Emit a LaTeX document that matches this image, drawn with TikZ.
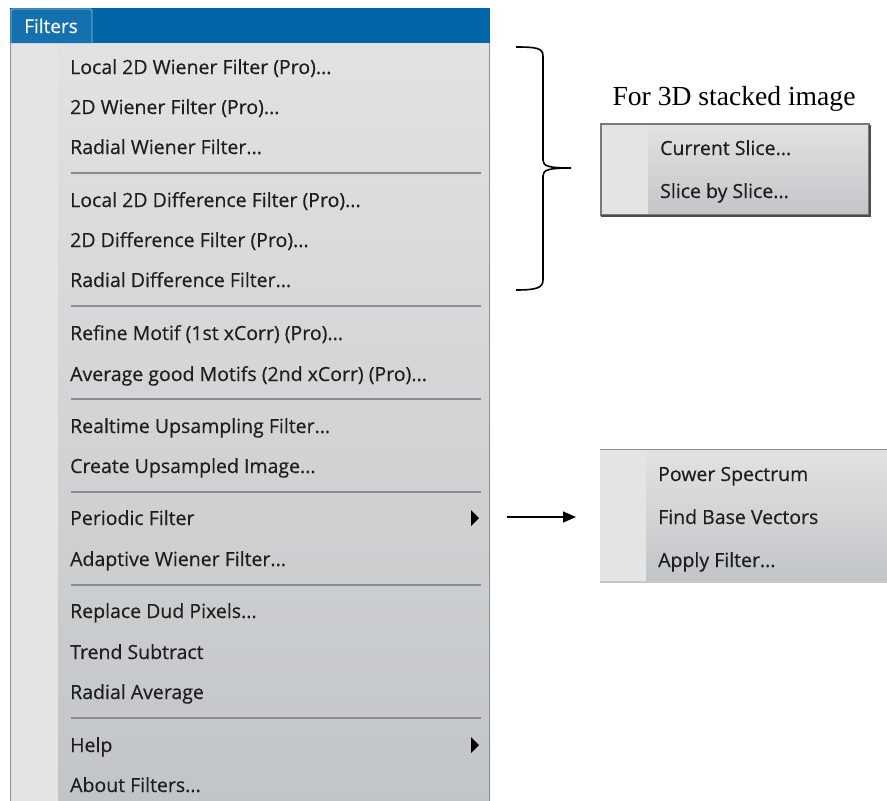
\documentclass[tikz,border=0pt]{standalone}
\usepackage{fontspec}
\setmainfont{Liberation Serif}
\newfontfamily\uifont{Open Sans}[FakeBold=0.4]
\usetikzlibrary{arrows.meta}
\definecolor{barblue}{HTML}{0066A8}
\definecolor{tabblue}{HTML}{1570B0}
\definecolor{menutop}{HTML}{E2E2E2}
\definecolor{menubot}{HTML}{C2C5C8}
\definecolor{iconcol}{HTML}{E4E4E4}
\definecolor{sepcol}{HTML}{8A8C8F}
\definecolor{bordcol}{HTML}{8E9092}
\definecolor{txtcol}{HTML}{1E1E1E}
\tikzset{
  item/.style={anchor=base west, inner sep=0pt, font=\uifont\fontsize{19.5}{22}\selectfont, text=txtcol},
  sep/.style={draw=sepcol, line width=1.3pt},
  subarrow/.style={fill=black, draw=none},
}
\begin{document}
\begin{tikzpicture}[x=1pt,y=-1pt]
\useasboundingbox (0,0) rectangle (887,801);
% main menu
\fill[top color=menutop, bottom color=menubot] (10,42) rectangle (490,801);
\fill[iconcol] (11,42) rectangle (58,801);
\draw[bordcol, line width=1.2pt] (10.5,42) -- (10.5,801) (489.5,42) -- (489.5,801);
\fill[barblue] (10,8) rectangle (490,43);
\draw[draw=white!60!barblue, fill=tabblue, line width=0.8pt, rounded corners=1.5pt] (11,43) -- (11,9) -- (92,9) -- (92,43);
\node[anchor=base west, inner sep=0pt, font=\uifont\fontsize{19}{22}\selectfont, text=white] (hdr) at (24,33) {Filters};
% items
\node[item] (i1) at (70,74) {Local 2D Wiener Filter (Pro)...};
\node[item] (i2) at (70,114) {2D Wiener Filter (Pro)...};
\node[item] (i3) at (70,154) {Radial Wiener Filter...};
\draw[sep] (71,173) -- (481,173);
\node[item] (i4) at (70,207) {Local 2D Difference Filter (Pro)...};
\node[item] (i5) at (70,247) {2D Difference Filter (Pro)...};
\node[item] (i6) at (70,287) {Radial Difference Filter...};
\draw[sep] (71,306) -- (481,306);
\node[item] (i7) at (70,340) {Refine Motif (1st xCorr) (Pro)...};
\node[item] (i8) at (70,381) {Average good Motifs (2nd xCorr) (Pro)...};
\draw[sep] (71,399) -- (481,399);
\node[item] (i9) at (70,433) {Realtime Upsampling Filter...};
\node[item] (i10) at (70,473) {Create Upsampled Image...};
\draw[sep] (71,492) -- (481,492);
\node[item] (i11) at (70,525) {Periodic Filter};
\node[item] (i12) at (70,566) {Adaptive Wiener Filter...};
\draw[sep] (71,585) -- (481,585);
\node[item] (i13) at (70,618) {Replace Dud Pixels...};
\node[item] (i14) at (70,659) {Trend Subtract};
\node[item] (i15) at (70,699) {Radial Average};
\draw[sep] (71,718) -- (481,718);
\node[item] (i16) at (70,752) {Help};
\node[item] (i17) at (70,792) {About Filters...};
\fill[subarrow] (471,510) -- (479,518) -- (471,526) -- cycle;
\coordinate (pfarrow) at (507,517);
\fill[subarrow] (471,737) -- (479,745) -- (471,753) -- cycle;
% brace
\draw[line width=1.6pt] (516,47) .. controls (536,47) and (543,48) .. (543,56) -- (543,160)
  .. controls (543,166) and (548,168) .. (571,168)
  .. controls (548,168) and (543,170) .. (543,176) -- (543,280)
  .. controls (543,288) and (536,290) .. (516,290);
\coordinate (bracetip) at (571,168);
% label
\node[anchor=base, inner sep=0pt, font=\fontsize{27.6}{30}\selectfont] (lbl) at (734,105) {For 3D stacked image};
% submenu 1
\fill[top color=menutop, bottom color=menubot] (601,124) rectangle (869,215);
\fill[iconcol] (601,124) rectangle (648,215);
\draw[draw=bordcol!85!black, line width=1.5pt] (601,124) rectangle (869,215);
\draw[gray!60!black, line width=1.5pt] (601,216) -- (870,216) -- (870,125);
\node[item] (s1) at (660,155) {Current Slice...};
\node[item] (s2) at (660,198) {Slice by Slice...};
% submenu 2
\fill[top color=menutop, bottom color=menubot] (600,449) rectangle (887,582);
\fill[iconcol] (600,449) rectangle (646,582);
\draw[bordcol, line width=1.5pt] (600,449.5) -- (887,449.5);
\draw[gray!40, line width=1.2pt] (600,581.5) -- (887,581.5);
\node[item] (p1) at (658,481) {Power Spectrum};
\node[item] (p2) at (658,524) {Find Base Vectors};
\node[item] (p3) at (658,567) {Apply Filter...};
\coordinate (p2in) at (576,517);
% arrow
\draw[line width=1.3pt, -{Triangle[length=13pt,width=11pt]}] (pfarrow) -- (p2in);
\end{tikzpicture}
\end{document}
